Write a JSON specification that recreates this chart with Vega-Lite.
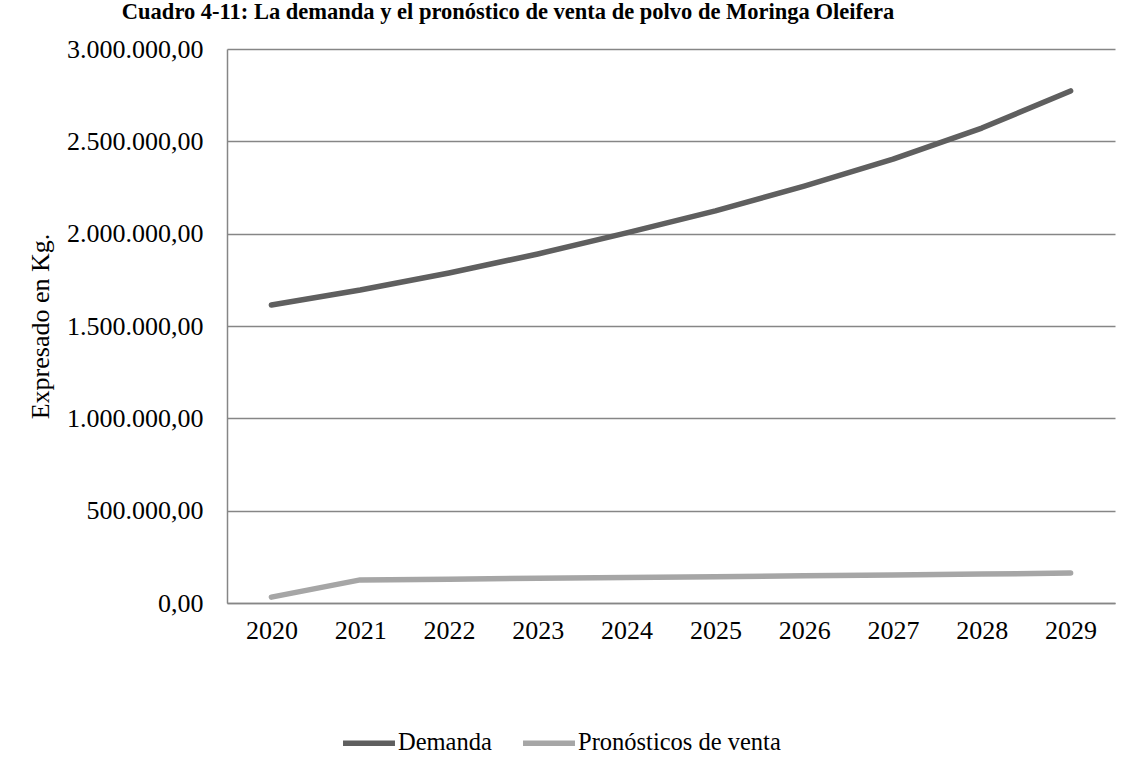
{
  "$schema": "https://vega.github.io/schema/vega-lite/v6.json",
  "autosize": {"type": "none"},
  "width": 888,
  "height": 554,
  "padding": {"left": 227, "top": 49, "right": 27, "bottom": 169},
  "background": "white",
  "title": {
    "text": "Cuadro 4-11: La demanda y el pronóstico de venta de polvo de Moringa Oleifera",
    "font": "Liberation Serif",
    "fontSize": 22.5,
    "fontWeight": "bold",
    "color": "black",
    "anchor": "middle",
    "frame": "group",
    "baseline": "bottom",
    "offset": 27,
    "dx": -163,
    "dy": 37
  },
  "data": {
    "values": [
      {"year": "2020", "serie": "Demanda", "kg": 1614000},
      {"year": "2021", "serie": "Demanda", "kg": 1695000},
      {"year": "2022", "serie": "Demanda", "kg": 1787000},
      {"year": "2023", "serie": "Demanda", "kg": 1890000},
      {"year": "2024", "serie": "Demanda", "kg": 2004000},
      {"year": "2025", "serie": "Demanda", "kg": 2123000},
      {"year": "2026", "serie": "Demanda", "kg": 2258000},
      {"year": "2027", "serie": "Demanda", "kg": 2404000},
      {"year": "2028", "serie": "Demanda", "kg": 2572000},
      {"year": "2029", "serie": "Demanda", "kg": 2773000},
      {"year": "2020", "serie": "Pronósticos de venta", "kg": 32000},
      {"year": "2021", "serie": "Pronósticos de venta", "kg": 125000},
      {"year": "2022", "serie": "Pronósticos de venta", "kg": 129000},
      {"year": "2023", "serie": "Pronósticos de venta", "kg": 134000},
      {"year": "2024", "serie": "Pronósticos de venta", "kg": 138000},
      {"year": "2025", "serie": "Pronósticos de venta", "kg": 142000},
      {"year": "2026", "serie": "Pronósticos de venta", "kg": 147000},
      {"year": "2027", "serie": "Pronósticos de venta", "kg": 152000},
      {"year": "2028", "serie": "Pronósticos de venta", "kg": 157000},
      {"year": "2029", "serie": "Pronósticos de venta", "kg": 162000}
    ]
  },
  "mark": {"type": "line", "strokeWidth": 5.5, "strokeCap": "round", "strokeJoin": "round"},
  "encoding": {
    "x": {
      "field": "year",
      "type": "ordinal",
      "scale": {"type": "point", "padding": 0.5},
      "axis": {
        "title": null,
        "labelAngle": 0,
        "ticks": false,
        "labelPadding": 14,
        "domainColor": "#868686",
        "domainWidth": 1.5,
        "grid": false
      }
    },
    "y": {
      "field": "kg",
      "type": "quantitative",
      "scale": {"domain": [0, 3000000], "nice": false},
      "axis": {
        "title": "Expresado en Kg.",
        "values": [0, 500000, 1000000, 1500000, 2000000, 2500000, 3000000],
        "format": ",.2f",
        "ticks": false,
        "labelPadding": 24,
        "titlePadding": 13,
        "domainColor": "#868686",
        "domainWidth": 1.5,
        "grid": true,
        "gridColor": "#868686",
        "gridWidth": 1.5
      }
    },
    "color": {
      "field": "serie",
      "type": "nominal",
      "sort": ["Demanda", "Pronósticos de venta"],
      "scale": {"domain": ["Demanda", "Pronósticos de venta"], "range": ["#5f5f5f", "#a6a6a6"]},
      "legend": {
        "title": null,
        "orient": "none",
        "direction": "horizontal",
        "legendX": 113,
        "legendY": 665,
        "symbolType": "stroke",
        "symbolSize": 2700,
        "symbolStrokeWidth": 5.5,
        "labelOffset": 0,
        "columnPadding": 20
      }
    }
  },
  "config": {
    "locale": {
      "number": {"decimal": ",", "thousands": ".", "grouping": [3], "currency": ["", ""]}
    },
    "view": {"stroke": null},
    "axis": {
      "labelFont": "Liberation Serif",
      "labelFontSize": 26,
      "labelColor": "black",
      "titleFont": "Liberation Serif",
      "titleFontSize": 26,
      "titleFontWeight": "normal",
      "titleColor": "black"
    },
    "legend": {
      "labelFont": "Liberation Serif",
      "labelFontSize": 24.5,
      "labelColor": "black",
      "labelLimit": 400
    }
  }
}
